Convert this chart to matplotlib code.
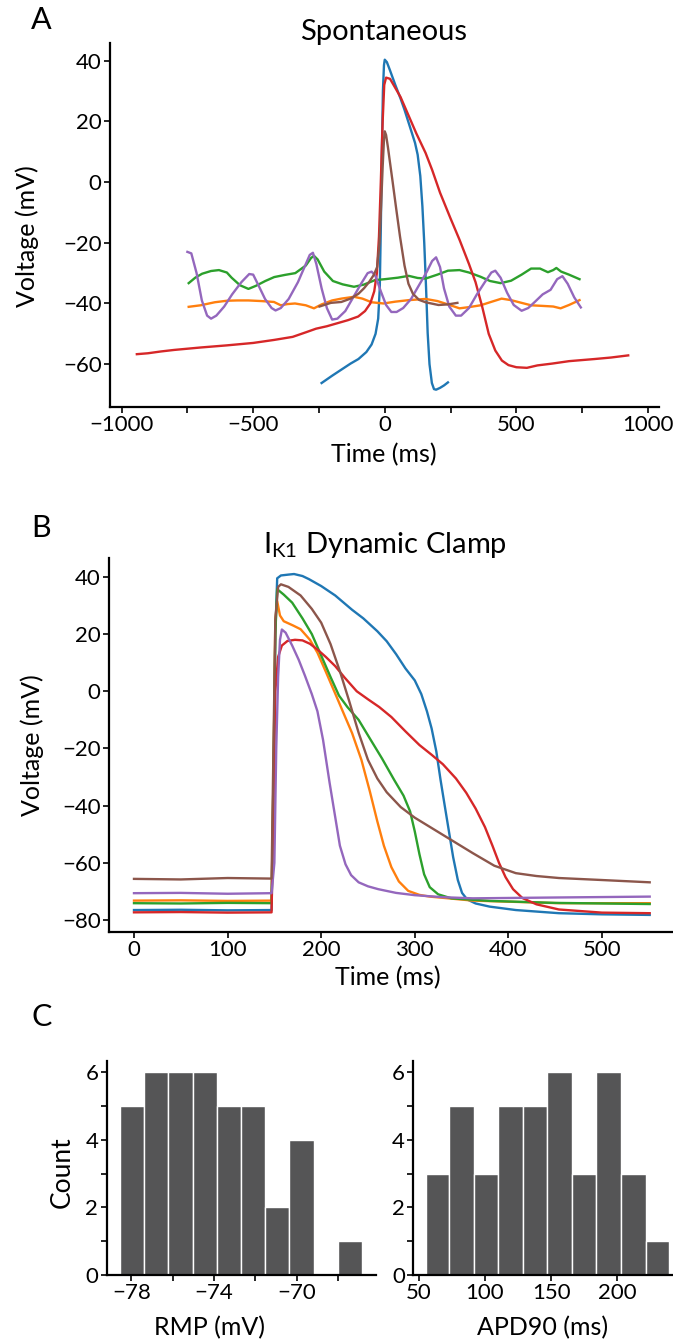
import numpy as np
import matplotlib
matplotlib.use("Agg")
import matplotlib.pyplot as plt
from matplotlib.ticker import MultipleLocator

plt.rcParams['font.family'] = ['Lato', 'DejaVu Sans']
plt.rcParams['mathtext.fontset'] = 'custom'
plt.rcParams['mathtext.rm'] = 'Lato'
plt.rcParams['axes.unicode_minus'] = True

W, H = 673, 1343

# ---------------- Panel A: spontaneous ----------------
a_blue_t = [-240, -200, -165, -130, -100, -70, -50, -35, -25, -19, -15, -11, -7, -3, 0, 8, 19, 40, 60, 75, 100, 115, 125, 135, 143, 150, 157, 163, 170, 179, 187, 195, 210, 225, 240]
a_blue_v = [-66.2, -63.8, -61.8, -59.8, -58.3, -56, -53.5, -50, -45, -35, -15, 10, 30, 38.5, 40.3, 39.5, 37, 32, 27.5, 23.8, 17, 12.9, 9, 2, -8, -20, -35, -49.7, -60, -66.2, -68.2, -68.4, -67.8, -67, -66]

a_orange_t = [-745, -700, -646, -600, -560, -518, -470, -421, -395, -370, -341, -300, -269, -240, -200, -165, -117, -85, -50, -5, 40, 91, 155, 200, 240, 284, 320, 364, 400, 444, 480, 520, 556, 600, 640, 668, 700, 740]
a_orange_v = [-41.1, -40.6, -39.6, -39.1, -39, -39, -39.2, -39.5, -40.6, -40.2, -40, -40.6, -41.6, -40.3, -39, -38.4, -37.8, -38.4, -39.6, -40, -39.4, -38.9, -38.5, -39.2, -40.3, -41.6, -41.2, -40.6, -39.6, -38.4, -38.9, -39.8, -40.6, -40.8, -41, -41.6, -40.5, -38.9]

a_green_t = [-745, -720, -694, -660, -630, -600, -582, -550, -518, -490, -454, -420, -380, -340, -300, -280, -269, -255, -230, -197, -160, -117, -80, -37, 0, 50, 91, 125, 155, 200, 240, 284, 320, 364, 400, 440, 480, 520, 556, 590, 620, 640, 652, 670, 700, 740]
a_green_v = [-33.3, -31.5, -30.2, -29.3, -29, -29.8, -31.5, -34, -35.2, -34.2, -32.6, -31.3, -30.6, -30, -27.5, -25, -24.3, -25.5, -29.5, -32.6, -33.7, -34.5, -33.8, -32.3, -32, -31.5, -30.9, -31.6, -31.8, -30.5, -29.2, -29, -29.8, -31.2, -32.6, -33.3, -32.5, -30.5, -28.5, -28.5, -29.7, -29, -28.3, -29.5, -30.5, -32]

a_red_t = [-942, -900, -850, -800, -700, -600, -500, -420, -350, -300, -261, -220, -180, -140, -101, -75, -55, -40, -30, -22, -15, -8, -2, 5, 20, 40, 60, 90, 120, 155, 180, 210, 250, 284, 320, 345, 370, 395, 420, 445, 470, 500, 540, 580, 636, 700, 797, 860, 925]
a_red_v = [-56.7, -56.4, -55.8, -55.3, -54.5, -53.8, -53, -52, -51, -49.5, -48.3, -47.5, -46.5, -45.5, -44.3, -42.5, -40, -36, -30, -18, 0, 20, 32, 34.4, 34, 31, 28, 22, 16, 9.6, 4, -3.5, -12, -19, -27, -33, -41, -50, -55.5, -58.8, -60.3, -61, -61.2, -60.4, -59.8, -59, -58.3, -57.8, -57.1]

a_purple_t = [-750, -735, -715, -695, -675, -660, -640, -610, -580, -545, -515, -500, -480, -455, -430, -415, -395, -365, -330, -300, -285, -273, -260, -240, -220, -200, -180, -150, -120, -90, -65, -50, -35, -15, 5, 25, 45, 70, 100, 130, 160, 180, 195, 210, 225, 245, 270, 290, 320, 350, 380, 405, 420, 440, 465, 490, 520, 545, 570, 600, 630, 655, 675, 695, 720, 745]
a_purple_v = [-23.0, -23.5, -30, -39, -44, -45, -44, -41, -37, -33, -30.3, -30.5, -34, -38.5, -41.5, -42.3, -41.5, -38.5, -33, -27, -24, -23.3, -27, -35, -41.5, -45.3, -45, -42.5, -38, -33.5, -30, -29.5, -31, -36, -40.5, -42.8, -42.8, -41.5, -38.5, -34, -29.5, -26, -24.8, -28, -35, -41, -44, -44, -41.5, -37, -33, -29.8, -29.2, -31.5, -36.5, -40.5, -42.4, -41.5, -39.5, -37, -35.5, -32, -31, -33.5, -38, -41.3]

a_brown_t = [-248, -205, -165, -130, -100, -79, -60, -41, -29, -20, -14, -8, -3, 0, 5, 12, 19, 30, 43, 58, 75, 90, 107, 130, 155, 204, 240, 276]
a_brown_v = [-41, -39.8, -39.5, -38.4, -36.8, -35, -33, -30.5, -28, -20, -8, 5, 14, 16.7, 15.5, 11.5, 7, 0, -8.5, -18, -27.5, -33.5, -36.8, -38.8, -39.6, -40.5, -40.3, -39.8]

# ---------------- Panel B: IK1 dynamic clamp ----------------
b_blue_t = [0, 50, 100, 147, 149, 151, 153, 157, 165, 171, 180, 187, 200, 215, 233, 245, 260, 270, 280, 290, 300, 307, 313, 318, 323, 327.5, 332, 337, 341, 346, 350.5, 356, 365, 380, 408, 454, 500, 551]
b_blue_v = [-76.5, -76.4, -76.6, -76.5, -40, 20, 39.5, 40.5, 40.8, 41, 40.3, 39.2, 36.8, 33.5, 28.5, 25.5, 21, 17.5, 13, 8, 3.8, -1, -7, -13, -21, -30.9, -40, -50, -58, -66, -70.5, -72.8, -74.2, -75.3, -76.5, -77.6, -78, -78.2]

b_orange_t = [0, 50, 100, 147, 149, 151, 153, 156, 160, 170, 178, 188, 196, 205, 215, 225, 233, 243, 252, 260, 267, 275, 283, 293, 305, 316, 362, 454, 551]
b_orange_v = [-73.2, -73.1, -73.3, -73.2, -30, 25, 31.5, 26.5, 24.5, 23, 21.7, 18, 13.5, 6.8, -0.8, -8.5, -14.6, -24, -35, -45.5, -54, -61.5, -66.5, -69.8, -71.2, -71.8, -73.2, -74.1, -74.1]

b_green_t = [0, 50, 100, 147, 149, 151, 153, 160, 169, 180, 190, 200, 210, 219, 228, 240, 252, 265, 278, 288, 295, 300, 305, 310, 316, 325, 339, 380, 450, 551]
b_green_v = [-74.1, -74.2, -74.0, -74.1, -30, 20, 35.7, 33.8, 31, 25.5, 20, 12.5, 5, -1.5, -5.5, -10, -16.5, -23.5, -31, -36.5, -42, -49, -57, -64, -68.5, -71, -72.4, -73.3, -74, -74.4]

b_red_t = [0, 50, 100, 147, 149, 151, 154, 158, 164, 172, 180, 188, 196, 205, 215, 225, 238, 250, 262, 275, 290, 305, 318, 330, 344, 355, 365, 375, 383, 390, 397, 405, 415, 430, 454, 500, 551]
b_red_v = [-77.3, -77.2, -77.4, -77.3, -40, 0, 12, 16, 17.6, 18, 17.8, 16.6, 14.6, 12, 8.8, 4.8, 0, -2.8, -5.5, -9, -14, -18.8, -22.2, -25.5, -30.5, -35.5, -41, -47.5, -54, -60, -65, -69.2, -72.3, -74.5, -76.3, -77.4, -77.6]

b_purple_t = [0, 50, 100, 147, 150, 152, 154, 156, 158, 162, 169, 176, 182.6, 190, 196, 202, 209, 215, 220, 226, 232, 240, 250, 261, 280, 300, 330, 362, 454, 551]
b_purple_v = [-70.6, -70.5, -70.8, -70.6, -60, -20, 5, 18, 21.6, 20.5, 16, 11, 5.5, -1, -7, -17, -32, -44, -54, -60.5, -64.3, -66.8, -68.2, -69.2, -70.5, -71.3, -72, -72.4, -72.1, -71.8]

b_brown_t = [0, 50, 100, 147, 149, 151, 154, 157, 165, 178, 190, 200, 210, 220, 230, 240, 250, 260, 270, 285, 300, 316, 339, 362, 385, 408, 430, 454, 500, 551]
b_brown_v = [-65.6, -65.8, -65.3, -65.5, -20, 25, 36.5, 37.4, 36.5, 33.5, 28.8, 24, 16.5, 7, -3.5, -14.5, -24, -30.5, -35.3, -40.5, -44.2, -47.4, -52, -56.6, -61, -63.6, -64.6, -65.3, -66, -66.8]

# ---------------- Panel C: histograms ----------------
rmp_edges = [-78.55, -77.38, -76.21, -75.04, -73.87, -72.70, -71.53, -70.36, -69.19, -68.02, -66.85]
rmp_counts = [5, 6, 6, 6, 5, 5, 2, 4, 0, 1]
apd_edges = [55.6, 73.0, 91.5, 110.0, 128.6, 147.2, 165.5, 184.1, 202.6, 221.3, 239.0]
apd_counts = [3, 5, 3, 5, 5, 6, 3, 6, 3, 1]

COLORS = {'blue': '#1f77b4', 'orange': '#ff7f0e', 'green': '#2ca02c',
          'red': '#d62728', 'purple': '#9467bd', 'brown': '#8c564b'}

fig = plt.figure(figsize=(W / 100, H / 100), dpi=100)


def rect(l, t, r, b):
    return [l / W, 1 - b / H, (r - l) / W, (b - t) / H]


def style(ax):
    for s in ['top', 'right']:
        ax.spines[s].set_visible(False)
    for s in ['left', 'bottom']:
        ax.spines[s].set_linewidth(1.6)
        ax.spines[s].set_color('black')
    ax.tick_params(which='both', direction='out', width=1.2, colors='black',
                   labelsize=16, pad=2)
    ax.tick_params(which='major', length=4)
    ax.tick_params(which='minor', length=4)


def ftext(x, y, s, **kw):
    fig.text(x / W, 1 - y / H, s, **kw)


LW = 1.7

# Panel A
axA = fig.add_axes(rect(110, 42.7, 659, 407))
for name, t, v in [('blue', a_blue_t, a_blue_v), ('orange', a_orange_t, a_orange_v),
                   ('green', a_green_t, a_green_v), ('red', a_red_t, a_red_v),
                   ('purple', a_purple_t, a_purple_v), ('brown', a_brown_t, a_brown_v)]:
    axA.plot(t, v, color=COLORS[name], lw=LW)
axA.set_xlim(-1044, 1042)
axA.set_ylim(-74.1, 45.9)
axA.set_xticks([-1000, -500, 0, 500, 1000])
axA.xaxis.set_minor_locator(MultipleLocator(250))
axA.set_yticks([-60, -40, -20, 0, 20, 40])
style(axA)

# Panel B
axB = fig.add_axes(rect(109, 558.3, 673, 931.5))
for name, t, v in [('blue', b_blue_t, b_blue_v), ('orange', b_orange_t, b_orange_v),
                   ('green', b_green_t, b_green_v), ('red', b_red_t, b_red_v),
                   ('purple', b_purple_t, b_purple_v), ('brown', b_brown_t, b_brown_v)]:
    axB.plot(t, v, color=COLORS[name], lw=LW)
axB.set_xlim(-26.7, 575.9)
axB.set_ylim(-84.0, 46.5)
axB.set_xticks([0, 100, 200, 300, 400, 500])
axB.set_yticks([-80, -60, -40, -20, 0, 20, 40])
style(axB)

# Panel C
BARC = '#555556'
axC1 = fig.add_axes(rect(106.7, 1061, 376, 1275))
axC1.bar(rmp_edges[:-1], rmp_counts, width=np.diff(rmp_edges), align='edge',
         color=BARC, edgecolor='white', linewidth=1.0)
axC1.set_xlim(-79.19, -66.17)
axC1.set_ylim(0, 6.33)
axC1.set_xticks([-78, -74, -70])
axC1.set_xticks([-76, -72, -68], minor=True)
axC1.set_yticks([0, 2, 4, 6])
axC1.set_yticks([1, 3, 5], minor=True)
style(axC1)

axC2 = fig.add_axes(rect(413.3, 1061, 673, 1275))
axC2.bar(apd_edges[:-1], apd_counts, width=np.diff(apd_edges), align='edge',
         color=BARC, edgecolor='white', linewidth=1.0)
axC2.set_xlim(46, 242)
axC2.set_ylim(0, 6.33)
axC2.set_xticks([50, 100, 150, 200])
axC2.set_yticks([0, 2, 4, 6])
axC2.set_yticks([1, 3, 5], minor=True)
style(axC2)

# Texts
LBL = 18
ftext(41, 20, 'A', fontsize=22, ha='center', va='center')
ftext(41, 528, 'B', fontsize=22, ha='center', va='center')
ftext(42, 1017, 'C', fontsize=22, ha='center', va='center')

ftext(384, 40, 'Spontaneous', fontsize=21, ha='center', va='baseline')
ftext(385, 553, r'I$_{\mathrm{K1}}$ Dynamic Clamp', fontsize=21, ha='center', va='baseline')

ftext(27, 236, 'Voltage (mV)', fontsize=LBL, rotation=90, ha='center', va='center')
ftext(32, 745, 'Voltage (mV)', fontsize=LBL, rotation=90, ha='center', va='center')
ftext(384, 455, 'Time (ms)', fontsize=LBL, ha='center', va='center')
ftext(388, 978, 'Time (ms)', fontsize=LBL, ha='center', va='center')

ftext(62, 1172, 'Count', fontsize=19, rotation=90, ha='center', va='center')
ftext(209, 1328, 'RMP (mV)', fontsize=LBL, ha='center', va='center')
ftext(543, 1328, 'APD90 (ms)', fontsize=LBL, ha='center', va='center')

fig.savefig('out.png', dpi=100)
